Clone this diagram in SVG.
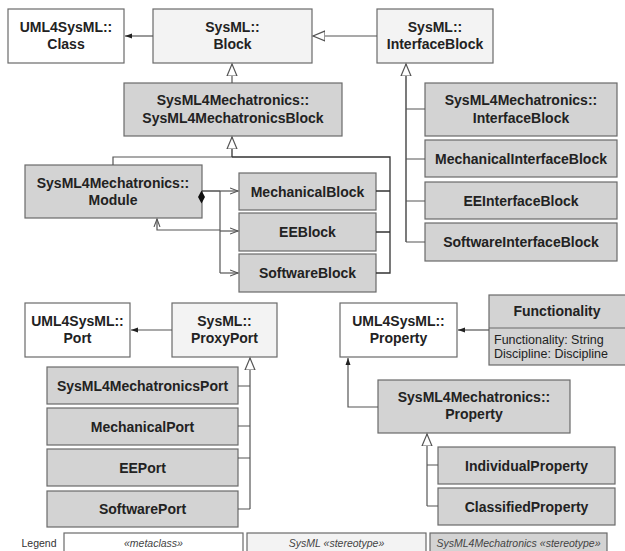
<svg xmlns="http://www.w3.org/2000/svg" width="625" height="551" viewBox="0 0 625 551">
<style>
.w{fill:#ffffff;stroke:#6a6a6a;stroke-width:1.2}
.l{fill:#f3f3f3;stroke:#6a6a6a;stroke-width:1.2}
.g{fill:#d3d3d3;stroke:#6a6a6a;stroke-width:1.2}
text{font-family:"Liberation Sans",Arial,sans-serif;fill:#222}
.t{font-size:14px;font-weight:bold;text-anchor:middle}
.a{font-size:12.5px}
.lg{font-size:10.5px;font-style:italic;text-anchor:middle;fill:#444}
.lt{font-size:10.5px;text-anchor:middle;fill:#333}
.c{fill:none;stroke:#555;stroke-width:1.2}
.ck{fill:none;stroke:#333;stroke-width:1.3}
</style>
<defs>
<marker id="fa" markerUnits="userSpaceOnUse" markerWidth="10" markerHeight="8" refX="7" refY="4" orient="auto"><path d="M0,1.5 L7,4 L0,6.5 Z" fill="#222"/></marker>
<marker id="gt" markerUnits="userSpaceOnUse" markerWidth="14" markerHeight="12" refX="12" refY="6" orient="auto"><path d="M0,1 L12,6 L0,11 Z" fill="#fff" stroke="#555" stroke-width="1.2"/></marker>
<marker id="oa" markerUnits="userSpaceOnUse" markerWidth="10" markerHeight="8" refX="8" refY="4" orient="auto"><path d="M0,1 L8,4 L0,7" fill="none" stroke="#555" stroke-width="1.1"/></marker>
</defs>

<g id="uml-class"><rect class="w" x="8" y="9" width="116" height="54"/><text class="t" x="66" y="32">UML4SysML::</text><text class="t" x="66" y="49">Class</text></g>
<g id="sysml-block"><rect class="l" x="153" y="9" width="159" height="54"/><text class="t" x="232.5" y="32">SysML::</text><text class="t" x="232.5" y="49">Block</text></g>
<g id="sysml-interfaceblock"><rect class="l" x="377" y="9" width="116" height="54"/><text class="t" x="435" y="32">SysML::</text><text class="t" x="435" y="49">InterfaceBlock</text></g>
<g id="s4m-block"><rect class="g" x="124" y="83" width="218" height="53"/><text class="t" x="233" y="105">SysML4Mechatronics::</text><text class="t" x="233" y="123">SysML4MechatronicsBlock</text></g>
<g id="s4m-interfaceblock"><rect class="g" x="425" y="83" width="192" height="53"/><text class="t" x="521" y="105">SysML4Mechatronics::</text><text class="t" x="521" y="123">InterfaceBlock</text></g>
<g id="mech-interfaceblock"><rect class="g" x="425" y="140" width="192" height="37"/><text class="t" x="521" y="163.5">MechanicalInterfaceBlock</text></g>
<g id="ee-interfaceblock"><rect class="g" x="425" y="182" width="192" height="37"/><text class="t" x="521" y="205.5">EEInterfaceBlock</text></g>
<g id="sw-interfaceblock"><rect class="g" x="425" y="223" width="192" height="38"/><text class="t" x="521" y="247">SoftwareInterfaceBlock</text></g>
<g id="module"><rect class="g" x="25" y="165" width="177" height="53"/><text class="t" x="113" y="188">SysML4Mechatronics::</text><text class="t" x="113" y="204.5">Module</text></g>
<g id="mech-block"><rect class="g" x="239" y="173" width="137" height="37"/><text class="t" x="307.5" y="196.5">MechanicalBlock</text></g>
<g id="ee-block"><rect class="g" x="239" y="213" width="137" height="38"/><text class="t" x="307.5" y="237">EEBlock</text></g>
<g id="sw-block"><rect class="g" x="239" y="254" width="137" height="38"/><text class="t" x="307.5" y="278">SoftwareBlock</text></g>
<g id="uml-port"><rect class="w" x="25" y="303" width="105" height="54"/><text class="t" x="77.5" y="326">UML4SysML::</text><text class="t" x="77.5" y="343">Port</text></g>
<g id="sysml-proxyport"><rect class="l" x="172" y="303" width="105" height="54"/><text class="t" x="224.5" y="326">SysML::</text><text class="t" x="224.5" y="343">ProxyPort</text></g>
<g id="s4m-port"><rect class="g" x="47" y="367" width="191" height="37"/><text class="t" x="142.5" y="390.5">SysML4MechatronicsPort</text></g>
<g id="mech-port"><rect class="g" x="47" y="408" width="191" height="37"/><text class="t" x="142.5" y="431.5">MechanicalPort</text></g>
<g id="ee-port"><rect class="g" x="47" y="449" width="191" height="37"/><text class="t" x="142.5" y="472.5">EEPort</text></g>
<g id="sw-port"><rect class="g" x="47" y="491" width="191" height="36"/><text class="t" x="142.5" y="514">SoftwarePort</text></g>
<g id="uml-property"><rect class="w" x="340" y="303" width="117" height="54"/><text class="t" x="398.5" y="326">UML4SysML::</text><text class="t" x="398.5" y="343">Property</text></g>
<g id="functionality"><rect class="g" x="489" y="295" width="140" height="70"/><line x1="489" y1="328" x2="629" y2="328" stroke="#6a6a6a" stroke-width="1.2"/><text class="t" x="557" y="316">Functionality</text><text class="a" x="494" y="344">Functionality: String</text><text class="a" x="494" y="358">Discipline: Discipline</text></g>
<g id="s4m-property"><rect class="g" x="378" y="380" width="192" height="53"/><text class="t" x="474" y="402">SysML4Mechatronics::</text><text class="t" x="474" y="419">Property</text></g>
<g id="individual-property"><rect class="g" x="438" y="447" width="177" height="37"/><text class="t" x="526.5" y="470.5">IndividualProperty</text></g>
<g id="classified-property"><rect class="g" x="438" y="488" width="177" height="37"/><text class="t" x="526.5" y="511.5">ClassifiedProperty</text></g>

<g id="connectors">
<path class="c" d="M153,36 H125" marker-end="url(#fa)"/>
<path class="c" d="M377,36 H313" marker-end="url(#gt)"/>
<path class="c" d="M232,83 V64" marker-end="url(#gt)"/>
<path class="c" d="M113,165 V157 H232"/>
<path class="ck" d="M232,157 H390 V273 H376 M390,191 H376 M390,232 H376"/>
<path class="ck" d="M232,157 V137" marker-end="url(#gt)"/>
<path class="ck" d="M406,242 V64" marker-end="url(#gt)"/>
<path class="c" d="M406,109 H425 M406,159 H425 M406,201 H425 M406,242 H425"/>
<path class="ck" d="M202,191 H220"/>
<path class="c" d="M220,191 V273"/>
<path class="c" d="M220,191 H238" marker-end="url(#oa)"/>
<path class="c" d="M220,231 H238" marker-end="url(#oa)"/>
<path class="c" d="M220,273 H238" marker-end="url(#oa)"/>
<path class="c" d="M220,230 H157 V219" marker-end="url(#oa)"/>
<polygon points="201.5,190.5 205,197 201.5,203.5 198,197" fill="#111"/>
<path class="c" d="M172,330 H131" marker-end="url(#fa)"/>
<path class="c" d="M250,509 V358" marker-end="url(#gt)"/>
<path class="c" d="M250,386 H238 M250,426 H238 M250,458 H238 M250,509 H238"/>
<path class="c" d="M489,330 H458" marker-end="url(#fa)"/>
<path class="c" d="M378,407 H348 V358" marker-end="url(#fa)"/>
<path class="c" d="M427,506 V434" marker-end="url(#gt)"/>
<path class="c" d="M427,465 H438 M427,506 H438"/>
</g>

<g id="legend">
<text class="lt" x="39" y="547" fill="#333333">Legend</text>
<rect class="w" x="64" y="533" width="179" height="22"/><text class="lg" x="153.5" y="547">«metaclass»</text>
<rect class="l" x="247" y="533" width="179" height="22"/><text class="lg" x="336.5" y="547">SysML «stereotype»</text>
<rect class="g" x="430" y="533" width="177" height="22"/><text class="lg" x="518.5" y="547">SysML4Mechatronics «stereotype»</text>
</g>
</svg>
